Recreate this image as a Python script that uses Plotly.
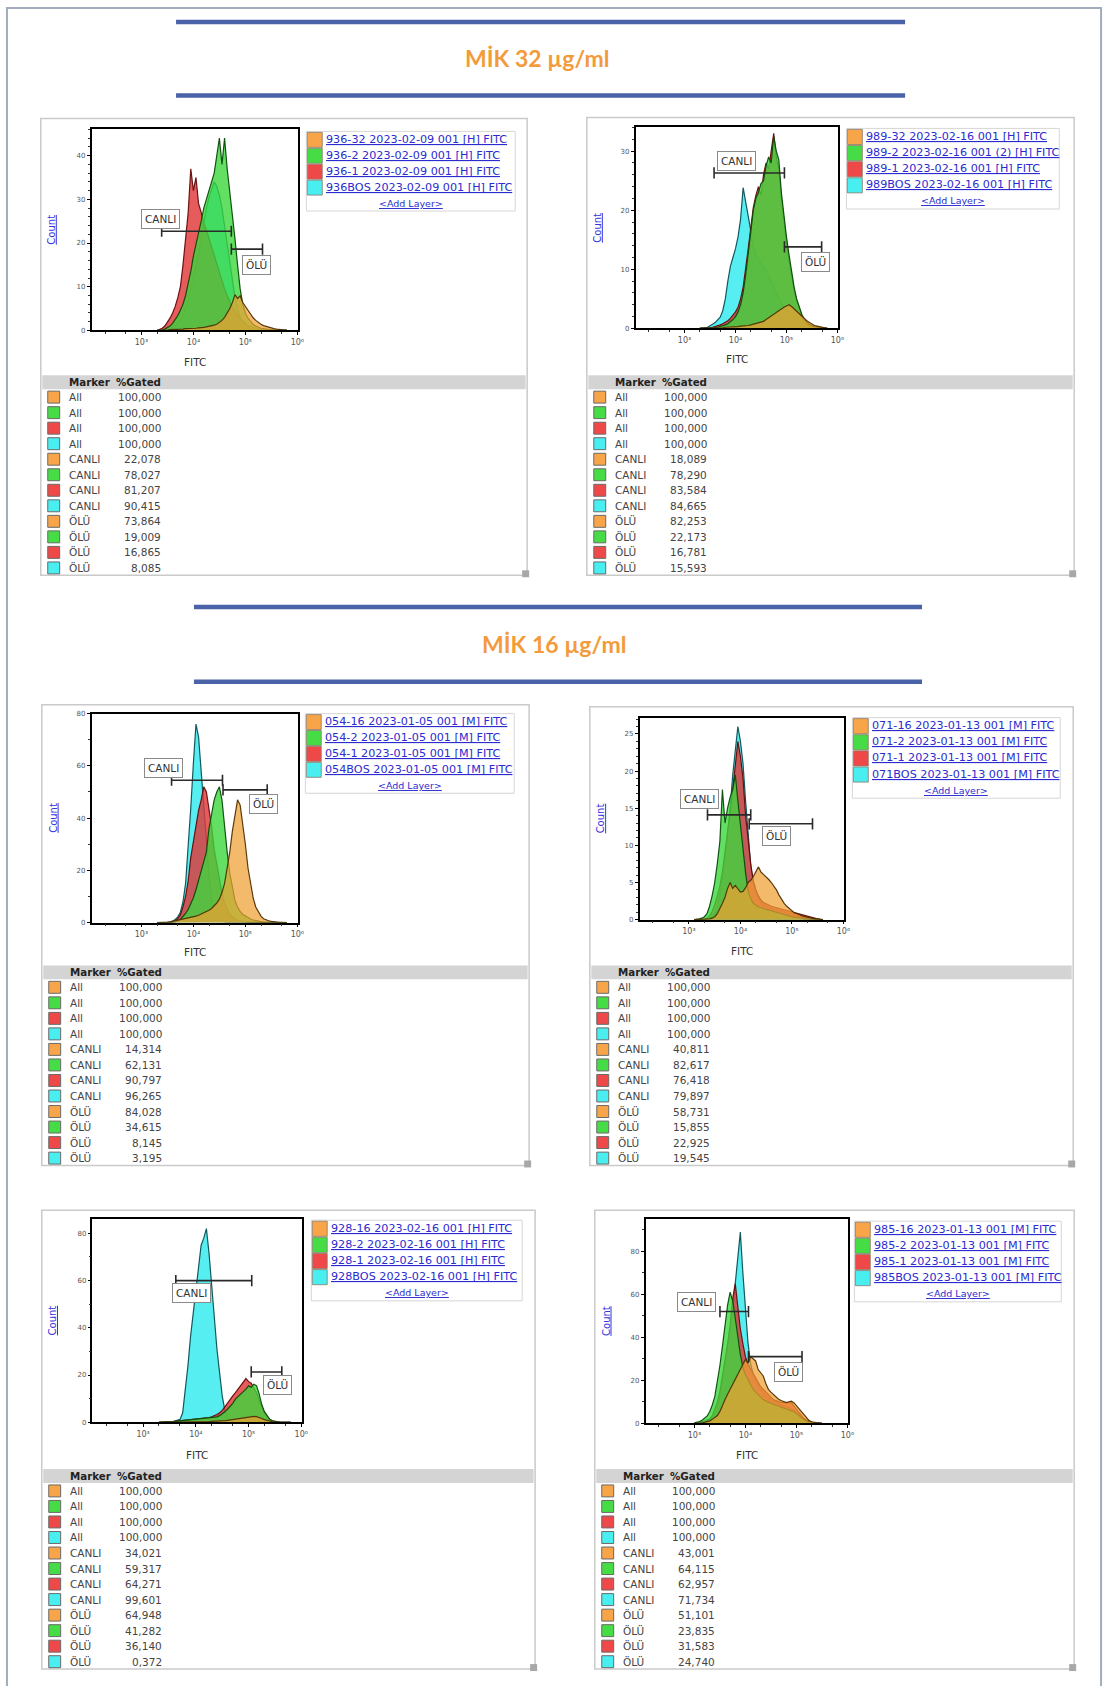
import numpy as np
import plotly.graph_objects as go

W, H = 1115, 1686

# ------------------------------------------------------------------ data
section_titles = ["MİK 32 µg/ml", "MİK 16 µg/ml"]
tick_vals = [1e3, 1e4, 1e5, 1e6]
tick_text = ["10³", "10⁴", "10⁵", "10⁶"]
marker_names = ["All"] * 4 + ["CANLI"] * 4 + ["ÖLÜ"] * 4
all_gated = [100.0, 100.0, 100.0, 100.0]

# ---- panel 1 : 936 (MİK 32)
p1_labels = ["936-32 2023-02-09 001 [H] FITC", "936-2 2023-02-09 001 [H] FITC",
             "936-1 2023-02-09 001 [H] FITC", "936BOS 2023-02-09 001 [H] FITC"]
p1_bins = np.round(np.arange(3.30, 5.8001, 0.05), 2)          # log10(FITC)
p1_orange = [0,0,0.1,0.1,0.1,0.2,0.2,0.2,0.3,0.3, 0.3,0.4,0.4,0.4,0.5,0.5,0.6,0.6,0.7,0.8,
             0.9,1.0,1.2,1.4,1.8,2.3,3.0,3.9,5.0,6.4, 8.2,7.3,7.9,6.4,5.5,4.4,3.6,2.9,2.3,1.8,
             1.4,1.1,0.9,0.7,0.5,0.4,0.3,0.2,0.2,0.1,0]
p1_green = [0,0,0.1,0.3,0.6,1.0,1.6,2.4,3.4,4.6, 6,8,10.5,13.5,17,19.5,22,25,28,30,
            32,33.5,36,40,44,38,44,37,32,26, 21,15,9.5,6,4,2.8,2.0,1.4,1.0,0.7,
            0.5,0.4,0.3,0.2,0.2,0.1,0.1,0,0,0,0]
p1_red = [0,0.2,0.5,1.0,1.8,2.8,4.0,5.5,7.5,10, 15,21,27,37,32,35,29,27,24.5,23,
          21,19,17,15,13,11,9.5,8,6.5,5.2, 4.2,3.4,2.7,2.1,1.6,1.2,0.9,0.7,0.5,0.4,
          0.3,0.2,0.2,0.1,0.1,0.1,0,0,0,0,0]
p1_cyan = [0,0,0,0.1,0.2,0.4,0.7,1.1,1.7,2.5, 3.5,5,7,9.5,12,15,18,21.5,25,28,
           30.5,32.5,34,33,31,28,24,19.5,15,11, 7.5,5,3.2,2,1.3,0.8,0.5,0.3,0.2,0.1,
           0.1,0,0,0,0,0,0,0,0,0,0]
p1_canli = [22.078, 78.027, 81.207, 90.415]
p1_olu = [73.864, 19.009, 16.865, 8.085]
p1_gates = dict(canli=(3.39, 4.73, 22.7), olu=(4.73, 5.33, 18.6))
p1_gate_labels = dict(canli=(3.36, 25.5), olu=(5.22, 15.0))

# ---- panel 2 : 989 (MİK 32)
p2_labels = ["989-32 2023-02-16 001 [H] FITC", "989-2 2023-02-16 001 (2) [H] FITC",
             "989-1 2023-02-16 001 [H] FITC", "989BOS 2023-02-16 001 [H] FITC"]
p2_bins = np.round(np.arange(3.30, 5.8001, 0.05), 2)
p2_orange = [0,0,0,0,0,0,0,0.1,0.1,0.1, 0.2,0.2,0.2,0.3,0.3,0.3,0.4,0.4,0.5,0.5,
             0.6,0.7,0.8,0.9,1.0,1.2,1.5,1.8,2.1,2.5, 2.8,3.1,3.4,3.6,3.8,4.0,3.7,3.3,2.9,2.5,
             2.0,1.6,1.3,1.0,0.7,0.5,0.4,0.3,0.2,0.1,0]
p2_green = [0,0,0,0,0,0.1,0.1,0.2,0.3,0.4, 0.6,0.8,1.1,1.5,2,2.8,4,6,9,12.5,
            16.5,20,22,23,24.5,25,27.5,29,28,32.5, 30,28.5,23,19,15.5,12.5,9.5,7,5,3.6,
            2.4,1.5,1.0,0.6,0.4,0.3,0.2,0.1,0.1,0,0]
p2_red = [0,0,0,0,0.1,0.2,0.3,0.4,0.6,0.8, 1.0,1.3,1.7,2.2,2.8,3.6,5,7,10,13.5,
          17,20.5,22.5,24,22.5,26,28,27,30,33, 29,27,22,18,14.5,11.5,8.8,6.5,4.7,3.3,
          2.2,1.4,0.9,0.6,0.4,0.3,0.2,0.1,0,0,0]
p2_cyan = [0,0,0.1,0.2,0.4,0.7,1.0,1.4,1.9,3, 5,8,10.5,12,13.5,15.5,18.5,23.8,21,19,
           16.5,14,12.5,11.5,11,10.5,10,9,8,7, 6,5,4.2,3.5,3,2.5,2.1,1.8,1.5,1.2,
           1.0,0.8,0.6,0.4,0.3,0.2,0.1,0.1,0,0,0]
p2_canli = [18.089, 78.290, 83.584, 84.665]
p2_olu = [82.253, 22.173, 16.781, 15.593]
p2_gates = dict(canli=(3.58, 4.96, 26.3), olu=(4.96, 5.69, 13.8))
p2_gate_labels = dict(canli=(4.02, 28.3), olu=(5.57, 11.2))

# ---- panel 3 : 054 (MİK 16)
p3_labels = ["054-16 2023-01-05 001 [M] FITC", "054-2 2023-01-05 001 [M] FITC",
             "054-1 2023-01-05 001 [M] FITC", "054BOS 2023-01-05 001 [M] FITC"]
p3_bins = np.round(np.arange(3.30, 5.8001, 0.05), 2)
p3_orange = [0,0,0,0.1,0.2,0.3,0.5,0.7,0.9,1.1, 1.3,1.5,1.7,2.0,2.2,2.5,2.8,3.2,3.6,4.1,
             4.7,5.4,6.3,7.5,9,11.5,15,21,27,35, 42,47,45,38,30,21,15,9.5,6,4,
             2.5,1.5,1.0,0.7,0.5,0.3,0.2,0.1,0.1,0,0]
p3_green = [0,0,0,0,0,0,0.1,0.3,0.6,1.2, 2.2,3.5,5,7,9.5,12.6,16,19.5,23,27,
            36,41,47,50,52,47,36,27,19,13, 8.5,6,4.3,3.2,2.5,1.9,1.4,1.0,0.7,0.5,
            0.4,0.3,0.2,0.1,0.1,0,0,0,0,0,0]
p3_red = [0,0,0,0,0,0.1,0.3,0.7,1.5,3, 6,10,16,25,31,38,43,47,52,50,
          44,37,28,22,16,11.5,7.5,5,3.3,2.2, 1.5,1.0,0.7,0.5,0.4,0.3,0.2,0.1,0.1,0,
          0,0,0,0,0,0,0,0,0,0,0]
p3_cyan = [0,0,0,0,0.1,0.3,0.6,1.2,2.2,4, 8,15,28,44,61,76,71,59,45,31.6,
           18,9,4,1.5,0.8,0.5,0.3,0.2,0.2,0.1, 0.1,0.1,0,0,0,0,0,0,0,0,
           0,0,0,0,0,0,0,0,0,0,0]
p3_canli = [14.314, 62.131, 90.797, 96.265]
p3_olu = [84.028, 34.615, 8.145, 3.195]
p3_gates = dict(canli=(3.58, 4.56, 54.5), olu=(4.57, 5.42, 50.8))
p3_gate_labels = dict(canli=(3.43, 59.0), olu=(5.35, 45.5))

# ---- panel 4 : 071 (MİK 16)
p4_labels = ["071-16 2023-01-13 001 [M] FITC", "071-2 2023-01-13 001 [M] FITC",
             "071-1 2023-01-13 001 [M] FITC", "071BOS 2023-01-13 001 [M] FITC"]
p4_bins = np.round(np.arange(3.10, 5.6001, 0.05), 2)
p4_orange = [0,0,0,0,0,0,0.1,0.2,0.4,0.8, 1.4,2.2,3,4.2,5,4.2,4.6,4.2,3.7,3.8,
             4.3,5,5.3,5.8,6.5,7.1,6.4,6.1,5.8,5.4, 5,4.5,4,3.3,2.7,2.2,1.8,1.5,1.2,0.9,
             0.8,0.6,0.5,0.4,0.3,0.2,0.2,0.1,0.1,0,0]
p4_green = [0,0,0.1,0.2,0.4,0.8,1.8,3.2,5,7.5, 10.5,17.5,13,15,16.5,17.5,19.5,16,12.5,9,
            6.3,3.8,2.8,2.2,1.9,1.7,1.6,1.5,1.4,1.3, 1.2,1.1,1.0,0.9,0.8,0.7,0.6,0.5,0.4,0.3,
            0.3,0.2,0.2,0.1,0.1,0.1,0,0,0,0,0]
p4_red = [0,0,0,0,0,0.2,0.5,1.1,2,3.2, 4.5,6.5,9,11.6,14.5,17.5,21,24,22,19,
          14,10.5,7.5,5.2,4,3.2,2.6,2.3,2.1,1.9, 1.8,1.7,1.6,1.5,1.4,1.3,1.2,1.1,1.0,0.9,
          0.8,0.7,0.6,0.5,0.4,0.3,0.2,0.1,0.1,0,0]
p4_cyan = [0,0,0,0,0,0,0.2,0.4,0.8,1.5, 3.2,5.5,8,11.6,15,19.5,23,26,24,21,
           16,11,7.2,5,3.8,3,2.3,2.0,1.8,1.6, 1.5,1.4,1.3,1.2,1.1,1.0,0.9,0.8,0.7,0.6,
           0.5,0.4,0.3,0.2,0.2,0.1,0.1,0,0,0,0]
p4_canli = [40.811, 82.617, 76.418, 79.897]
p4_olu = [58.731, 15.855, 22.925, 19.545]
p4_gates = dict(canli=(3.36, 4.20, 14.1), olu=(4.17, 5.40, 12.9))
p4_gate_labels = dict(canli=(3.20, 16.3), olu=(4.70, 11.2))

# ---- panel 5 : 928 (MİK 16)
p5_labels = ["928-16 2023-02-16 001 [H] FITC", "928-2 2023-02-16 001 [H] FITC",
             "928-1 2023-02-16 001 [H] FITC", "928BOS 2023-02-16 001 [H] FITC"]
p5_bins = np.round(np.arange(3.30, 5.8001, 0.05), 2)
p5_orange = [0,0,0,0,0,0,0,0,0.1,0.1, 0.1,0.1,0.1,0.2,0.2,0.2,0.2,0.3,0.3,0.3,
             0.4,0.4,0.5,0.5,0.6,0.7,0.8,1.0,1.1,1.3, 1.5,1.7,1.9,2.1,2.3,2.4,2.5,2.4,2.1,1.6,
             1.1,0.7,0.4,0.2,0.1,0.1,0,0,0,0,0]
p5_green = [0,0,0,0.1,0.2,0.3,0.4,0.5,0.6,0.7, 0.8,0.9,1.0,1.1,1.2,1.3,1.4,1.5,1.6,1.7,
            1.8,2.0,2.3,2.8,3.5,4.4,5.5,6.6,8,9.8, 10.8,12,13,14,15.4,14.8,16.1,15.5,12,7.5,
            4.5,2.6,1.3,0.6,0.3,0.1,0,0,0,0,0]
p5_red = [0,0,0,0.1,0.2,0.3,0.4,0.5,0.6,0.7, 0.8,0.9,1.0,1.1,1.2,1.3,1.4,1.6,1.8,2.0,
          2.3,2.7,3.3,4,5,6.5,8.2,9.8,11.2,12.5, 14,15.5,17,18.5,17.2,16.5,14.5,12.5,9.5,6.5,
          4,2.3,1.2,0.6,0.3,0.1,0,0,0,0,0]
p5_cyan = [0,0,0,0,0,0.2,0.5,0.9,1.2,4, 13,24,36.5,46,57,67,75,78,82,71.6,
           57,44,31,21,11.2,5,1.5,0.5,0.2,0.1, 0,0,0,0,0,0,0,0,0,0,
           0,0,0,0,0,0,0,0,0,0,0]
p5_canli = [34.021, 59.317, 64.271, 99.601]
p5_olu = [64.948, 41.282, 36.140, 0.372]
p5_gates = dict(canli=(3.62, 5.06, 60.0), olu=(5.05, 5.63, 21.3))
p5_gate_labels = dict(canli=(3.92, 54.7), olu=(5.55, 15.7))

# ---- panel 6 : 985 (MİK 16)
p6_labels = ["985-16 2023-01-13 001 [M] FITC", "985-2 2023-01-13 001 [M] FITC",
             "985-1 2023-01-13 001 [M] FITC", "985BOS 2023-01-13 001 [M] FITC"]
p6_bins = np.round(np.arange(3.00, 5.5001, 0.05), 2)
p6_orange = [0,0,0.1,0.2,0.4,0.6,1.1,1.8,2.6,3.6, 5.5,8.5,11,13.5,15.8,18,20.5,22.5,25,27,
             29.7,28,31,30,29,25,23.5,22,18.5,15.8, 14.5,13.4,12.2,11.2,10.6,10,9.6,10,10.3,9.6,
             8.2,6.5,5,3.5,2.3,1.2,0.7,0.4,0.2,0.1,0]
p6_green = [0.2,0.4,0.8,1.4,2.2,3.4,5.5,8.5,12.5,19, 27,36,46.7,55,61,57,49,40,32,26,
            22.5,20.4,18,15.8,14.5,13.2,12,11,10.4,9.8, 9.2,8.8,8.4,8,7.6,7.3,6.9,6.5,6,5.4,
            4.5,3.5,2.5,1.6,1.0,0.6,0.3,0.2,0.1,0,0]
p6_red = [0,0.1,0.3,0.6,1.0,1.4,1.9,3.5,6.5,10, 15,22,29,37,46,58,65,54,44,37,
          31,27.5,25.5,23,21,19,17,15.8,14.5,13.2, 12,11,10.5,10,9.7,9.6,9.5,9.7,9.6,8,
          6.5,4.8,3.2,2.2,1.4,0.8,0.4,0.2,0.1,0,0]
p6_cyan = [0,0.1,0.2,0.4,0.7,1.1,1.7,2.6,4,7, 12.7,20,28,35,43,53,65,80,89,70,
           52,37.5,28,23,20,17.5,15.5,14,12.8,11.8, 11,10.3,9.7,9,8.5,8,7.7,7.4,7,6,
           5,3.8,2.6,1.7,1.1,0.7,0.4,0.2,0.1,0,0]
p6_canli = [43.001, 64.115, 62.957, 71.734]
p6_olu = [51.101, 23.835, 31.583, 24.740]
p6_gates = dict(canli=(3.50, 4.06, 52.0), olu=(4.06, 5.11, 31.0))
p6_gate_labels = dict(canli=(3.05, 56.5), olu=(4.85, 24.0))

panels = [
    dict(labels=p1_labels, bins=p1_bins, series=[p1_orange, p1_green, p1_red, p1_cyan],
         canli=p1_canli, olu=p1_olu, gates=p1_gates, gate_labels=p1_gate_labels),
    dict(labels=p2_labels, bins=p2_bins, series=[p2_orange, p2_green, p2_red, p2_cyan],
         canli=p2_canli, olu=p2_olu, gates=p2_gates, gate_labels=p2_gate_labels),
    dict(labels=p3_labels, bins=p3_bins, series=[p3_orange, p3_green, p3_red, p3_cyan],
         canli=p3_canli, olu=p3_olu, gates=p3_gates, gate_labels=p3_gate_labels),
    dict(labels=p4_labels, bins=p4_bins, series=[p4_orange, p4_green, p4_red, p4_cyan],
         canli=p4_canli, olu=p4_olu, gates=p4_gates, gate_labels=p4_gate_labels),
    dict(labels=p5_labels, bins=p5_bins, series=[p5_orange, p5_green, p5_red, p5_cyan],
         canli=p5_canli, olu=p5_olu, gates=p5_gates, gate_labels=p5_gate_labels),
    dict(labels=p6_labels, bins=p6_bins, series=[p6_orange, p6_green, p6_red, p6_cyan],
         canli=p6_canli, olu=p6_olu, gates=p6_gates, gate_labels=p6_gate_labels),
]

# ------------------------------------------------------------------ layout / style
panel_geom = [  # pixel boxes: panel box, plot area, legend box, y max, y dtick, y minor, FITC y
    dict(box=(41, 115, 530, 574), plot=(92, 126, 300, 328), legend=(308, 128, 518, 208), ymax=46, dt=10, mdt=2, fitc=360),
    dict(box=(590, 114, 1080, 574), plot=(639, 124, 843, 326), legend=(851, 125, 1065, 206), ymax=34, dt=10, mdt=2, fitc=357),
    dict(box=(42, 704, 532, 1167), plot=(92, 713, 300, 923), legend=(307, 713, 517, 793), ymax=80, dt=20, mdt=10, fitc=953),
    dict(box=(593, 706, 1079, 1167), plot=(643, 717, 849, 920), legend=(857, 717, 1066, 798), ymax=27.2, dt=5, mdt=1, fitc=952),
    dict(box=(42, 1212, 538, 1673), plot=(93, 1221, 304, 1425), legend=(313, 1222, 525, 1303), ymax=86, dt=20, mdt=10, fitc=1458),
    dict(box=(598, 1212, 1080, 1673), plot=(649, 1221, 853, 1426), legend=(859, 1223, 1067, 1304), ymax=95, dt=20, mdt=10, fitc=1458),
]
sections = [dict(title_xy=(540, 54), lines=((177, 910, 18), (177, 910, 92))),
            dict(title_xy=(557, 643), lines=((195, 927, 606), (195, 927, 681)))]

swatch = ["#F7A548", "#46DC46", "#EE4848", "#48EEF0"]
fills = ["rgba(240,160,50,0.72)", "rgba(60,215,60,0.80)", "rgba(225,55,55,0.82)", "rgba(64,236,240,0.88)"]
edges = ["rgba(80,50,5,0.95)", "rgba(10,75,10,0.95)", "rgba(100,10,10,0.95)", "rgba(10,80,85,0.95)"]
draw_order = [3, 2, 1, 0]
FONT = "DejaVu Sans"
LINK = "#2b2bcf"


def X(px):
    return px / W


def Y(py):
    return 1 - py / H


def note(x, y, text, size, color, xanchor="center", bold=False, **kw):
    return dict(xref="paper", yref="paper", x=X(x), y=Y(y), text=("<b>%s</b>" % text) if bold else text,
                showarrow=False, xanchor=xanchor, yanchor="middle",
                font=dict(family=kw.pop("family", FONT), size=size, color=color), **kw)


fig = go.Figure()
shapes, annots = [], []

# outer frame
shapes.append(dict(type="rect", xref="paper", yref="paper", x0=X(7), x1=X(1107), y0=Y(4), y1=Y(1700),
                   line=dict(color="#A3ABBF", width=2), fillcolor="rgba(0,0,0,0)", layer="below"))
for sec, title in zip(sections, section_titles):
    for (xa, xb, yy) in sec["lines"]:
        shapes.append(dict(type="line", xref="paper", yref="paper", x0=X(xa), x1=X(xb), y0=Y(yy), y1=Y(yy),
                           line=dict(color="#4A62A8", width=4.5)))
    annots.append(note(sec["title_xy"][0], sec["title_xy"][1], title, 23, "#F39B3B", bold=True, family="Lato"))

layout_axes = {}
for k, (P, G) in enumerate(zip(panels, panel_geom), start=1):
    xa = "x" if k == 1 else f"x{k}"
    ya = "y" if k == 1 else f"y{k}"
    xkey = "xaxis" if k == 1 else f"xaxis{k}"
    ykey = "yaxis" if k == 1 else f"yaxis{k}"
    bx0, by0, bx1, by1 = G["box"]
    px0, py0, px1, py1 = G["plot"]
    lx0, ly0, lx1, ly1 = G["legend"]

    # panel frame
    shapes.append(dict(type="rect", xref="paper", yref="paper", x0=X(bx0), x1=X(bx1), y0=Y(by1), y1=Y(by0),
                       line=dict(color="#CACACA", width=1.5), fillcolor="white", layer="below"))

    layout_axes[xkey] = dict(type="log", domain=[X(px0), X(px1)], range=[2.04, 6.02], anchor=ya,
                             tickvals=tick_vals, ticktext=tick_text, ticks="outside", ticklen=3,
                             tickcolor="black", tickfont=dict(family=FONT, size=8, color="#555"),
                             showline=True, mirror=True, linecolor="black", linewidth=1.5,
                             showgrid=False, zeroline=False, fixedrange=True,
                             minor=dict(ticks="outside", ticklen=2, tickcolor="#333", dtick="D2"))
    layout_axes[ykey] = dict(domain=[Y(py1), Y(py0)], range=[0, G["ymax"]], anchor=xa,
                             dtick=G["dt"], tick0=0, ticks="outside", ticklen=3, tickcolor="black",
                             tickfont=dict(family=FONT, size=7, color="#555"),
                             showline=True, mirror=True, linecolor="black", linewidth=1.5,
                             showgrid=False, zeroline=False, fixedrange=True,
                             minor=dict(ticks="outside", ticklen=2, tickcolor="#333", dtick=G["mdt"]))

    # histograms
    bins = np.asarray(P["bins"])
    xs = 10 ** bins
    for si in draw_order:
        vals = list(P["series"][si])[:len(bins)]
        vals += [0] * (len(bins) - len(vals))
        fig.add_trace(go.Scatter(x=xs, y=vals, xaxis=xa, yaxis=ya, mode="lines",
                                 line=dict(color=edges[si], width=1.2), fill="tozeroy",
                                 fillcolor=fills[si], showlegend=False, hoverinfo="skip"))

    # gates
    for gname, text in (("canli", "CANLI"), ("olu", "ÖLÜ")):
        a, b, h = P["gates"][gname]
        fig.add_trace(go.Scatter(x=[10 ** a, 10 ** b], y=[h, h], xaxis=xa, yaxis=ya, mode="lines+markers",
                                 line=dict(color="#2a2a2a", width=1.6),
                                 marker=dict(symbol="line-ns-open", size=8, line=dict(color="#2a2a2a", width=1.6)),
                                 showlegend=False, hoverinfo="skip"))
        lxv, lyv = P["gate_labels"][gname]
        annots.append(dict(xref=xa, yref=ya, x=lxv, y=lyv, text=text, showarrow=False,
                           xanchor="center", yanchor="middle",
                           font=dict(family=FONT, size=10.5, color="#333"), bgcolor="white",
                           bordercolor="#8a8a8a", borderwidth=1, borderpad=3))

    # axis titles
    annots.append(note(bx0 + 11, (py0 + py1) / 2, "<u>Count</u>", 10, "#3535E0", textangle=-90))
    annots.append(note((px0 + px1) / 2, G["fitc"], "FITC", 10.5, "#333"))

    # legend box
    shapes.append(dict(type="rect", xref="paper", yref="paper", x0=X(lx0), x1=X(lx1), y0=Y(ly1), y1=Y(ly0),
                       line=dict(color="#D6D6D6", width=1), fillcolor="white"))
    rh = (ly1 - ly0) / 5
    for i in range(4):
        shapes.append(dict(type="rect", xref="paper", yref="paper", x0=X(lx0 + 1), x1=X(lx0 + 16),
                           y0=Y(ly0 + rh * (i + 1)), y1=Y(ly0 + rh * i + 1),
                           line=dict(color="#8a7a6a", width=0.8), fillcolor=swatch[i]))
        annots.append(note(lx0 + 18, ly0 + rh * (i + 0.5), "<u>" + P["labels"][i] + "</u>", 11.2, LINK,
                           xanchor="left"))
    annots.append(note((lx0 + lx1) / 2, ly0 + rh * 4.5, "<u>&lt;Add Layer&gt;</u>", 9.5, LINK))

    # table
    shapes.append(dict(type="rect", xref="paper", yref="paper", x0=X(bx0 + 1.5), x1=X(bx1 - 1.5),
                       y0=Y(by1 - 187), y1=Y(by1 - 201), line=dict(width=0), fillcolor="#D4D4D4"))
    annots.append(note(bx0 + 26, by1 - 194, "Marker", 10.3, "#222", xanchor="left", bold=True))
    annots.append(note(bx0 + 123, by1 - 194, "%Gated", 10.3, "#222", xanchor="right", bold=True))
    gated = all_gated + list(P["canli"]) + list(P["olu"])
    for r in range(12):
        cy = by1 - 179 + 15.6 * r
        shapes.append(dict(type="rect", xref="paper", yref="paper", x0=X(bx0 + 7), x1=X(bx0 + 19),
                           y0=Y(cy + 6), y1=Y(cy - 6), line=dict(color="#6a6a6a", width=1),
                           fillcolor=swatch[r % 4]))
        annots.append(note(bx0 + 26, cy, marker_names[r], 10.5, "#444", xanchor="left"))
        annots.append(note(bx0 + 123, cy, f"{gated[r]:.3f}".replace(".", ","), 10.5, "#444", xanchor="right"))
    # resize grip
    shapes.append(dict(type="rect", xref="paper", yref="paper", x0=X(bx1 - 5), x1=X(bx1 + 2),
                       y0=Y(by1 + 2), y1=Y(by1 - 5), line=dict(width=0), fillcolor="#A8A8A8"))

fig.update_layout(width=W, height=H, margin=dict(l=0, r=0, t=0, b=0), paper_bgcolor="white",
                  plot_bgcolor="white", showlegend=False, shapes=shapes, annotations=annots,
                  font=dict(family=FONT), **layout_axes)
fig.write_html("out.html")
